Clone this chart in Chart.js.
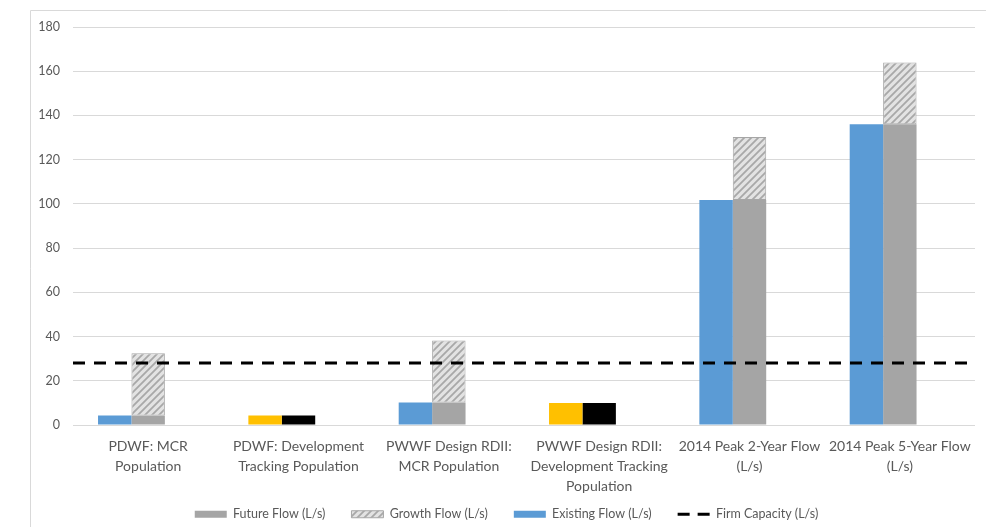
<!DOCTYPE html>
<html><head><meta charset="utf-8">
<script src="https://cdn.jsdelivr.net/npm/chart.js@4/dist/chart.umd.min.js"></script>
<style>html,body{margin:0;padding:0;background:#fff}canvas{display:block}</style>
</head><body>
<canvas id="c" width="986" height="527"></canvas>
<script>
const categories = [
  ["PDWF: MCR", "Population"],
  ["PDWF: Development", "Tracking Population"],
  ["PWWF Design RDII:", "MCR Population"],
  ["PWWF Design RDII:", "Development Tracking", "Population"],
  ["2014 Peak 2-Year Flow", "(L/s)"],
  ["2014 Peak 5-Year Flow", "(L/s)"]
];
const existingFlow = [4.3, 4.3, 10.2, 10.0, 101.8, 136.0];
const futureFlow   = [4.3, 4.3, 10.2, 10.0, 101.8, 136.0];
const growthFlow   = [28.1, null, 28.0, null, 28.5, 28.0];
const spacer       = [0, 0, 0, 0, 0, 0];
const firmCapacity = 28;
const yMin = 0, yMax = 180, yStep = 20;

const existingColors = ['#5B9BD5', '#FFC000', '#5B9BD5', '#FFC000', '#5B9BD5', '#5B9BD5'];
const futureColors   = ['#A5A5A5', '#000000', '#A5A5A5', '#000000', '#A5A5A5', '#A5A5A5'];

function makeHatch() {
  const s = 7;
  const c = document.createElement('canvas');
  c.width = s; c.height = s;
  const x = c.getContext('2d');
  x.fillStyle = '#e3e3e3';
  x.fillRect(0, 0, s, s);
  x.strokeStyle = '#a8a8a8';
  x.lineWidth = 1.8;
  x.beginPath();
  x.moveTo(0, s); x.lineTo(s, 0);
  x.moveTo(-s / 2, s / 2); x.lineTo(s / 2, -s / 2);
  x.moveTo(s / 2, s * 1.5); x.lineTo(s * 1.5, s / 2);
  x.stroke();
  return x.createPattern(c, 'repeat');
}
const hatch = makeHatch();

const frame = {
  id: 'frame',
  beforeDraw(chart) {
    const ctx = chart.ctx;
    ctx.save();
    ctx.strokeStyle = '#d9d9d9';
    ctx.lineWidth = 1;
    ctx.beginPath();
    ctx.moveTo(30.5, chart.height); ctx.lineTo(30.5, 10.5); ctx.lineTo(chart.width, 10.5);
    ctx.stroke();
    ctx.restore();
  }
};

const firmLine = {
  id: 'firmLine',
  afterDatasetsDraw(chart) {
    const {ctx, chartArea, scales} = chart;
    const y = scales.y.getPixelForValue(firmCapacity);
    ctx.save();
    ctx.strokeStyle = '#000';
    ctx.lineWidth = 3;
    ctx.setLineDash([12, 9]);
    ctx.beginPath();
    ctx.moveTo(chartArea.left, y);
    ctx.lineTo(chartArea.right, y);
    ctx.stroke();
    ctx.restore();
  }
};

const legendFit = {
  id: 'legendFit',
  afterInit(chart) {
    const lg = chart.legend;
    const orig = lg.fit;
    lg.fit = function () { orig.call(this); this.height = 30; };
  },
  afterLayout(chart) {
    const lg = chart.legend;
    lg.top -= 15;
    lg.height += 15;
  }
};

const txt = '#595959';
const fontFam = 'Lato, "Liberation Sans", sans-serif';

new Chart(document.getElementById('c'), {
  type: 'bar',
  data: {
    labels: categories,
    datasets: [
      { label: 'Existing Flow (L/s)', data: existingFlow, backgroundColor: existingColors, stack: 'a', borderWidth: 0 },
      { label: 'Future Flow (L/s)', data: futureFlow, backgroundColor: futureColors, stack: 'b', borderWidth: 0 },
      { label: 'Growth Flow (L/s)', data: growthFlow, backgroundColor: hatch, borderColor: '#a6a6a6', borderWidth: 1, borderSkipped: false, stack: 'b' },
      { label: 'spacer', data: spacer, backgroundColor: 'rgba(0,0,0,0)', stack: 'c', borderWidth: 0 }
    ]
  },
  options: {
    responsive: false,
    animation: false,
    categoryPercentage: 0.667,
    barPercentage: 1.0,
    layout: { padding: { top: 27, left: 38, right: 11, bottom: 0 } },
    plugins: {
      tooltip: { enabled: false },
      legend: {
        position: 'bottom',
        labels: {
          color: txt,
          font: { family: fontFam, size: 12.5 },
          usePointStyle: true,
          pointStyleWidth: 32,
          boxHeight: 7,
          padding: 26,
          generateLabels() {
            return [
              { text: 'Future Flow (L/s)', fillStyle: '#A5A5A5', strokeStyle: '#A5A5A5', lineWidth: 0, pointStyle: 'rect', datasetIndex: 1, hidden: false, fontColor: txt },
              { text: 'Growth Flow (L/s)', fillStyle: hatch, strokeStyle: '#a6a6a6', lineWidth: 1, pointStyle: 'rect', datasetIndex: 2, hidden: false, fontColor: txt },
              { text: 'Existing Flow (L/s)', fillStyle: '#5B9BD5', strokeStyle: '#5B9BD5', lineWidth: 0, pointStyle: 'rect', datasetIndex: 0, hidden: false, fontColor: txt },
              { text: 'Firm Capacity (L/s)', fillStyle: '#000', strokeStyle: '#000', lineWidth: 3, lineDash: [12, 8], pointStyle: 'line', hidden: false, fontColor: txt }
            ];
          }
        }
      }
    },
    scales: {
      x: {
        stacked: true,
        grid: { display: false, drawTicks: false },
        border: { display: false },
        ticks: { color: txt, font: { family: fontFam, size: 14, lineHeight: 1.43 }, padding: 11, autoSkip: false, maxRotation: 0, minRotation: 0 },
        afterFit(s) { s.height = 72; }
      },
      y: {
        stacked: true,
        min: yMin, max: yMax,
        ticks: { stepSize: yStep, color: txt, font: { family: fontFam, size: 12.5 }, padding: 13 },
        grid: { color: '#d9d9d9', drawTicks: false, lineWidth: 1 },
        border: { display: false },
        afterFit(s) { s.width = 35; }
      }
    }
  },
  plugins: [frame, firmLine, legendFit]
});
</script>
</body></html>
